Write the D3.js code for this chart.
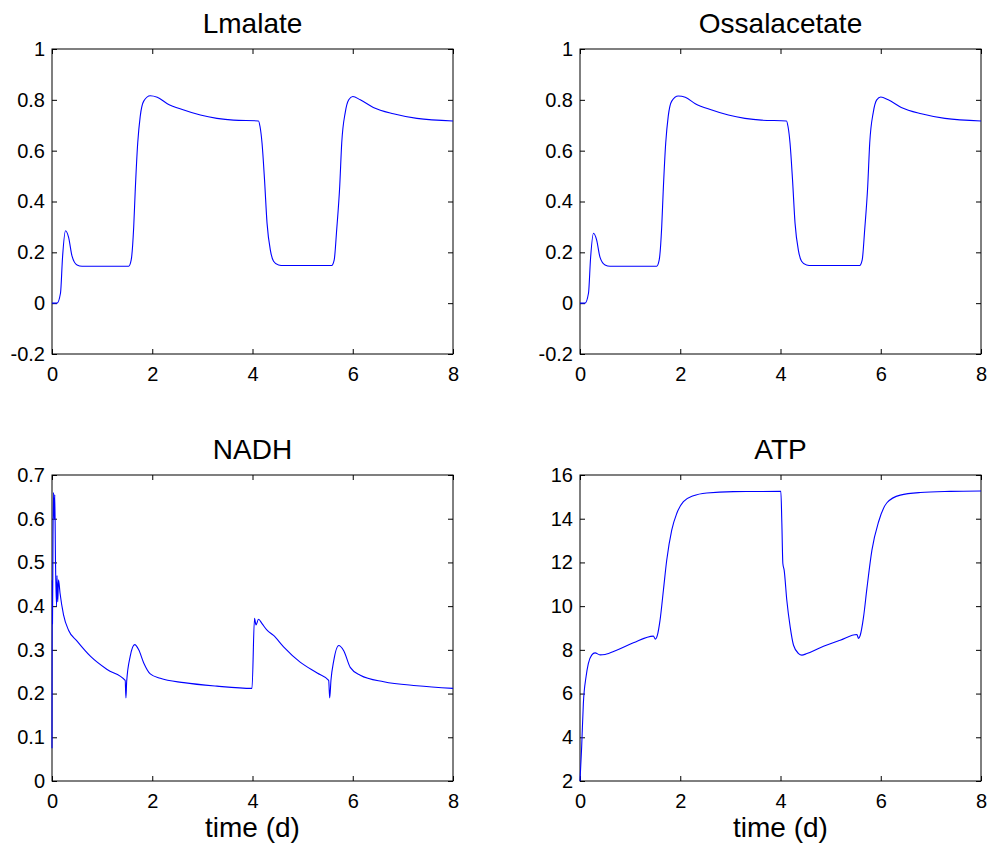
<!DOCTYPE html>
<html>
<head>
<meta charset="utf-8">
<script src="https://cdn.jsdelivr.net/npm/d3@7"></script>
<style>
  body { margin: 0; background: #fff; }
  text { font-family: Arial, "Liberation Sans", sans-serif; fill: #000; }
</style>
</head>
<body>
<div id="chart"></div>
<script>
// --- data ---
const lmalateT = [0, 0.1, 0.17, 0.21, 0.27, 0.33, 0.4, 0.5, 0.6, 1.53, 1.58, 1.63, 1.66, 1.71, 1.76, 1.83, 1.96, 2.1, 2.3, 2.63, 2.96, 3.29, 3.62, 4.12, 4.15, 4.19, 4.24, 4.29, 4.36, 4.42, 4.52, 4.62, 5.58, 5.63, 5.68, 5.74, 5.78, 5.85, 5.92, 6.0, 6.15, 6.41, 6.81, 7.28, 8.0];
const lmalateV = [0, 0.0, 0.04, 0.18, 0.285, 0.26, 0.185, 0.15, 0.145, 0.145, 0.17, 0.3, 0.44, 0.63, 0.735, 0.795, 0.816, 0.81, 0.785, 0.76, 0.74, 0.727, 0.72, 0.717, 0.695, 0.63, 0.485, 0.315, 0.205, 0.165, 0.15, 0.148, 0.148, 0.17, 0.29, 0.46, 0.63, 0.75, 0.8, 0.813, 0.8, 0.77, 0.745, 0.727, 0.717];
const ossalV  = [0, 0.0, 0.04, 0.175, 0.275, 0.25, 0.18, 0.15, 0.145, 0.145, 0.17, 0.3, 0.44, 0.63, 0.735, 0.795, 0.815, 0.81, 0.785, 0.76, 0.74, 0.727, 0.72, 0.717, 0.695, 0.63, 0.485, 0.315, 0.205, 0.165, 0.15, 0.148, 0.148, 0.17, 0.29, 0.46, 0.63, 0.75, 0.8, 0.811, 0.8, 0.77, 0.745, 0.727, 0.717];

const nadhT = [0, 0.005, 0.01, 0.02, 0.03, 0.045, 0.055, 0.07, 0.09, 0.1, 0.115, 0.13, 0.16, 0.23, 0.33, 0.5, 0.77, 1.1, 1.46, 1.475, 1.49, 1.56, 1.65, 1.73, 1.83, 1.96, 2.16, 2.63, 3.29, 3.99, 4.04, 4.07, 4.12, 4.19, 4.29, 4.42, 4.62, 4.95, 5.29, 5.52, 5.54, 5.565, 5.62, 5.72, 5.82, 5.95, 6.15, 6.62, 7.28, 8.0];
const nadhV = [0.075, 0.46, 0.36, 0.56, 0.66, 0.6, 0.655, 0.5, 0.4, 0.47, 0.41, 0.46, 0.43, 0.38, 0.345, 0.32, 0.285, 0.255, 0.23, 0.19, 0.228, 0.285, 0.312, 0.3, 0.27, 0.245, 0.235, 0.225, 0.217, 0.212, 0.372, 0.357, 0.37, 0.36, 0.345, 0.333, 0.307, 0.272, 0.247, 0.23, 0.19, 0.23, 0.275, 0.31, 0.298, 0.26, 0.242, 0.227, 0.218, 0.212];

const atpT = [0, 0.033, 0.067, 0.12, 0.166, 0.233, 0.3, 0.4, 0.5, 0.73, 1.065, 1.464, 1.504, 1.544, 1.597, 1.664, 1.73, 1.83, 1.93, 2.063, 2.263, 2.529, 3.062, 4.007, 4.027, 4.047, 4.073, 4.126, 4.193, 4.26, 4.36, 4.426, 4.526, 4.792, 5.191, 5.524, 5.557, 5.591, 5.657, 5.724, 5.824, 5.957, 6.123, 6.389, 6.789, 7.388, 8.0];
const atpV = [2, 3.56, 5.55, 6.76, 7.37, 7.76, 7.86, 7.77, 7.79, 7.98, 8.32, 8.63, 8.49, 8.67, 9.36, 10.73, 12.1, 13.48, 14.24, 14.78, 15.05, 15.18, 15.24, 15.25, 13.79, 11.95, 11.65, 10.27, 9.05, 8.21, 7.83, 7.76, 7.83, 8.1, 8.44, 8.7, 8.52, 8.67, 9.51, 10.81, 12.56, 13.86, 14.73, 15.08, 15.2, 15.25, 15.27];

const xTicks = [0, 2, 4, 6, 8];
const malateTicks = [-0.2, 0, 0.2, 0.4, 0.6, 0.8, 1];
const nadhTicks = [0, 0.1, 0.2, 0.3, 0.4, 0.5, 0.6, 0.7];
const atpTicks = [2, 4, 6, 8, 10, 12, 14, 16];

const W = 990, H = 849;
const svg = d3.select("#chart").append("svg")
  .attr("width", W).attr("height", H);

const panels = [
  { title: "Lmalate", t: lmalateT, v: lmalateV, x0: 52, x1: 453, y0: 49, y1: 354, dom: [-0.2, 1], ticks: malateTicks, xlabel: false },
  { title: "Ossalacetate", t: lmalateT, v: ossalV, x0: 580, x1: 981, y0: 49, y1: 354, dom: [-0.2, 1], ticks: malateTicks, xlabel: false },
  { title: "NADH", t: nadhT, v: nadhV, x0: 52, x1: 453, y0: 475, y1: 781, dom: [0, 0.7], ticks: nadhTicks, xlabel: true },
  { title: "ATP", t: atpT, v: atpV, x0: 580, x1: 981, y0: 475, y1: 781, dom: [2, 16], ticks: atpTicks, xlabel: true }
];

// plain hyphen for negatives, like the original
const fmt = d => String(+d.toFixed(2));

panels.forEach(p => {
  const x = d3.scaleLinear().domain([0, 8]).range([p.x0, p.x1]);
  const y = d3.scaleLinear().domain(p.dom).range([p.y1, p.y0]);
  const g = svg.append("g");

  // box
  g.append("rect")
    .attr("x", p.x0).attr("y", p.y0)
    .attr("width", p.x1 - p.x0).attr("height", p.y1 - p.y0)
    .attr("fill", "none").attr("stroke", "#000").attr("stroke-width", 1);

  // axes with inward ticks (labels on bottom and left only)
  const bottom = g.append("g").attr("transform", `translate(0,${p.y1})`)
    .call(d3.axisBottom(x).tickValues(xTicks).tickSize(-5).tickPadding(9).tickFormat(fmt));
  const top = g.append("g").attr("transform", `translate(0,${p.y0})`)
    .call(d3.axisTop(x).tickValues(xTicks).tickSize(-5).tickFormat(""));
  const left = g.append("g").attr("transform", `translate(${p.x0},0)`)
    .call(d3.axisLeft(y).tickValues(p.ticks).tickSize(-5).tickPadding(7).tickFormat(fmt));
  const right = g.append("g").attr("transform", `translate(${p.x1},0)`)
    .call(d3.axisRight(y).tickValues(p.ticks).tickSize(-5).tickFormat(""));

  [bottom, top, left, right].forEach(a => {
    a.select(".domain").remove();
    a.selectAll(".tick line").attr("stroke", "#000");
    a.selectAll("text").attr("font-size", 20).attr("font-family", "Arial, 'Liberation Sans', sans-serif").attr("fill", "#000");
  });
  bottom.selectAll("text").attr("dy", "0.9em");

  // curve
  const pts = p.t.map((t, i) => [t, p.v[i]]);
  g.append("path")
    .datum(pts)
    .attr("fill", "none")
    .attr("stroke", "#0000ff")
    .attr("stroke-width", 1.1)
    .attr("d", d3.line().x(d => x(d[0])).y(d => y(d[1])).curve(d3.curveMonotoneX));

  // title
  g.append("text")
    .attr("x", (p.x0 + p.x1) / 2).attr("y", p.y0 - 16)
    .attr("text-anchor", "middle").attr("font-size", 28)
    .text(p.title);

  if (p.xlabel) {
    g.append("text")
      .attr("x", (p.x0 + p.x1) / 2).attr("y", 837)
      .attr("text-anchor", "middle").attr("font-size", 28)
      .text("time (d)");
  }
});
</script>
</body>
</html>
